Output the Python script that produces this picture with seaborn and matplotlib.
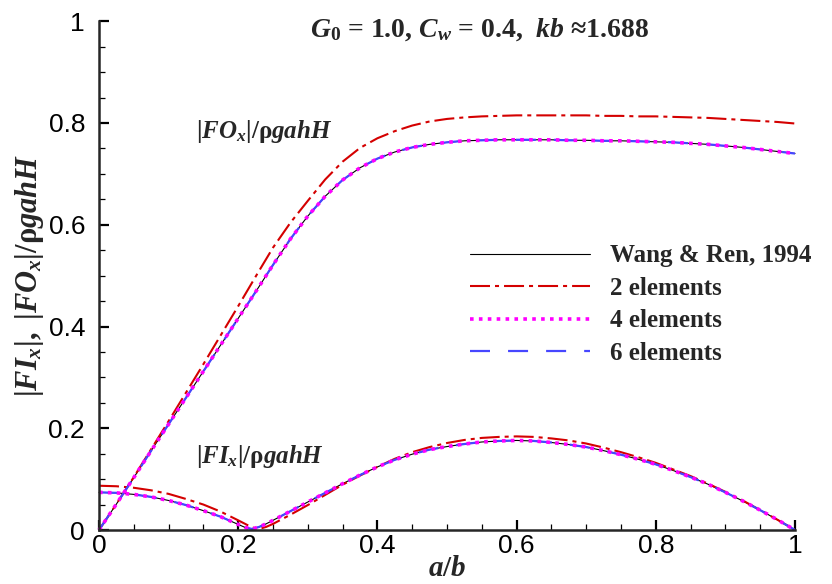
import matplotlib
matplotlib.use("Agg")
import matplotlib.pyplot as plt
import seaborn as sns
from matplotlib.ticker import MultipleLocator, FuncFormatter
from matplotlib.lines import Line2D

# Relative opening a/b
ab = [0.0, 0.025, 0.05, 0.075, 0.1, 0.125, 0.15, 0.175, 0.2, 0.225,
      0.25, 0.275, 0.3, 0.325, 0.35, 0.375, 0.4, 0.425, 0.45, 0.475,
      0.5, 0.525, 0.55, 0.575, 0.6, 0.625, 0.65, 0.675, 0.7, 0.725,
      0.75, 0.775, 0.8, 0.825, 0.85, 0.875, 0.9, 0.925, 0.95, 0.975, 1.0]

# Outer force |FO_x| / (rho g a h H)
fo_wang = [0.0, 0.051, 0.103, 0.156, 0.208, 0.260, 0.312, 0.364, 0.416, 0.468,
           0.521, 0.572, 0.617, 0.656, 0.688, 0.712, 0.730, 0.743, 0.752, 0.758,
           0.762, 0.765, 0.766, 0.767, 0.767, 0.767, 0.767, 0.766, 0.766, 0.765,
           0.765, 0.764, 0.763, 0.762, 0.760, 0.758, 0.755, 0.752, 0.748, 0.744, 0.740]
fo_2el = [0.0, 0.051, 0.104, 0.159, 0.214, 0.270, 0.326, 0.383, 0.440, 0.498,
          0.555, 0.604, 0.647, 0.689, 0.724, 0.751, 0.770, 0.784, 0.795, 0.803,
          0.808, 0.811, 0.813, 0.814, 0.815, 0.815, 0.815, 0.815, 0.815, 0.814,
          0.814, 0.813, 0.813, 0.812, 0.811, 0.810, 0.808, 0.806, 0.804, 0.802, 0.799]
fo_4el = list(fo_wang)
fo_6el = list(fo_wang)

# Inner force |FI_x| / (rho g a h H), sampled more finely near its minimum
ab_fi = [0.0, 0.025, 0.05, 0.075, 0.1, 0.125, 0.15, 0.175, 0.2, 0.21,
         0.22, 0.23, 0.24, 0.25, 0.275, 0.3, 0.325, 0.35, 0.375, 0.4,
         0.425, 0.45, 0.475, 0.5, 0.525, 0.55, 0.575, 0.6, 0.625, 0.65,
         0.675, 0.7, 0.725, 0.75, 0.775, 0.8, 0.825, 0.85, 0.875, 0.9,
         0.925, 0.95, 0.975, 1.0]
fi_wang = [0.074, 0.073, 0.070, 0.065, 0.058, 0.049, 0.038, 0.026, 0.011, 0.005,
           0.002, 0.006, 0.012, 0.019, 0.037, 0.055, 0.073, 0.091, 0.108, 0.124,
           0.138, 0.149, 0.158, 0.164, 0.169, 0.173, 0.175, 0.176, 0.175, 0.172,
           0.168, 0.163, 0.156, 0.148, 0.139, 0.129, 0.117, 0.104, 0.090, 0.074,
           0.057, 0.039, 0.020, 0.000]
fi_2el = [0.087, 0.086, 0.083, 0.078, 0.071, 0.061, 0.050, 0.036, 0.019, 0.012,
          0.005, 0.002, 0.006, 0.012, 0.030, 0.049, 0.069, 0.089, 0.107, 0.124,
          0.140, 0.153, 0.163, 0.171, 0.177, 0.181, 0.183, 0.184, 0.183, 0.180,
          0.176, 0.170, 0.162, 0.153, 0.143, 0.132, 0.119, 0.106, 0.091, 0.075,
          0.058, 0.039, 0.020, 0.000]
fi_4el = list(fi_wang)
fi_6el = list(fi_wang)

legend_labels = ["Wang & Ren, 1994", "2 elements", "4 elements", "6 elements"]

sns.set_style("ticks")
plt.rcParams.update({
    "font.family": ["Liberation Sans", "DejaVu Sans"],
    "mathtext.fontset": "custom",
    "mathtext.rm": "Liberation Serif:bold",
    "mathtext.it": "Liberation Serif:italic:bold",
    "mathtext.bf": "Liberation Serif:bold",
    "lines.scale_dashes": False,
    "axes.linewidth": 1.8,
})

fig = plt.figure(figsize=(8.32, 5.84), dpi=100)
ax = fig.add_axes([99 / 832, 54 / 584, 696 / 832, 508.75 / 584])

styles = {
    "wang": dict(color="black", lw=0.8, ls="-"),
    "e2": dict(color="#D40000", lw=1.5, ls=(0, (14.4, 3.6, 2.9, 3.6))),
    "e6": dict(color="#4646FF", lw=1.6, ls=(0, (14.4, 13.0))),
    "e4": dict(color="#FF00FF", lw=2.6, ls=(0, (2.6, 3.8))),
}

series = [
    ("wang", fo_wang, fi_wang),
    ("e2", fo_2el, fi_2el),
    ("e6", fo_6el, fi_6el),
    ("e4", fo_4el, fi_4el),
]
for key, fo, fi in series:
    st = styles[key]
    sns.lineplot(x=ab, y=fo, ax=ax, estimator=None, color=st["color"],
                 linewidth=st["lw"], linestyle=st["ls"], clip_on=False)
    sns.lineplot(x=ab_fi, y=fi, ax=ax, estimator=None, color=st["color"],
                 linewidth=st["lw"], linestyle=st["ls"], clip_on=False)

ax.set_xlim(0, 1)
ax.set_ylim(0, 1)
sns.despine(ax=ax)
ax.xaxis.set_major_locator(MultipleLocator(0.2))
ax.xaxis.set_minor_locator(MultipleLocator(0.05))
ax.yaxis.set_major_locator(MultipleLocator(0.2))
ax.yaxis.set_minor_locator(MultipleLocator(0.05))
fmt = FuncFormatter(lambda v, p: f"{v:g}")
ax.xaxis.set_major_formatter(fmt)
ax.yaxis.set_major_formatter(fmt)
ax.tick_params(which="major", direction="in", length=7, width=1.6,
               labelsize=19, color="black", labelcolor="black")
ax.tick_params(which="minor", direction="in", length=4, width=0.9, color="black")
ax.tick_params(axis="y", which="major", pad=10)
ax.tick_params(axis="x", which="major", pad=3)

ax.set_xlabel(r"$a/b$", fontsize=21, labelpad=-3)
ax.set_ylabel(r"$|FI_x|,\ |FO_x|/\mathrm{\rho}gahH$", fontsize=22, labelpad=2)

ax.text(0.547, 0.983, r"$G_0$ = 1.0, $C_w$ = 0.4,  $kb$ ≈1.688",
        transform=ax.transAxes, ha="center", va="center", fontsize=20,
        fontweight="bold", family="Liberation Serif")
ax.text(0.140, 0.771, r"$|FO_x|/\mathrm{\rho}gahH$", fontsize=18,
        ha="left", va="baseline")
ax.text(0.140, 0.132, r"$|FI_x|/\mathrm{\rho}gahH$", fontsize=18,
        ha="left", va="baseline")

handles = [Line2D([], [], color=styles[k]["color"], lw=styles[k]["lw"],
                  ls=styles[k]["ls"]) for k in ("wang", "e2", "e4", "e6")]
leg = ax.legend(handles, legend_labels, loc="center left",
                bbox_to_anchor=(0.533, 0.443), frameon=False, borderpad=0,
                borderaxespad=0, handlelength=4.8, handletextpad=0.8,
                labelspacing=0.38,
                prop=dict(family="Liberation Serif", weight="bold", size=18))

fig.savefig("out.png", dpi=100)
